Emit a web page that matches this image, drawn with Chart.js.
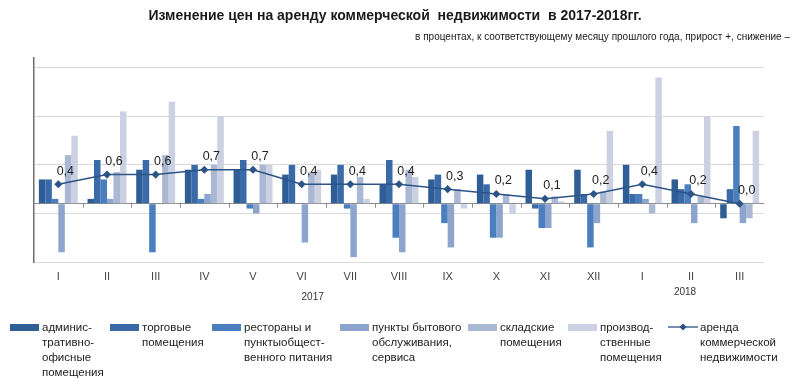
<!DOCTYPE html>
<html>
<head>
<meta charset="utf-8">
<script src="https://cdn.jsdelivr.net/npm/chart.js@4"></script>
<style>
  body { margin: 0; background: #fff; font-family: 'Liberation Sans', Arial, sans-serif; }
  #wrap { position: relative; width: 800px; height: 390px; }
  #title { position: absolute; left: 0; width: 790px; top: 7px; text-align: center; font-weight: bold; font-size: 14px; color: #1a1a1a; white-space: pre; }
  #sub { position: absolute; right: 10px; top: 31px; font-size: 10px; color: #1a1a1a; }
  .leg { position: absolute; top: 320px; font-size: 11.5px; line-height: 15px; color: #222; }
  .sw { position: absolute; top: 324px; width: 29px; height: 7px; }
</style>
</head>
<body>
<div id="wrap">
  <canvas id="chart" width="800" height="390"></canvas>
  <div id="title">Изменение цен на аренду коммерческой  недвижимости  в 2017-2018гг.</div>
  <div id="sub">в процентах, к соответствующему месяцу прошлого года, прирост +, снижение –</div>
  <div id="legend"></div>
</div>
<script>
// data
var months = ['I', 'II', 'III', 'IV', 'V', 'VI', 'VII', 'VIII', 'IX', 'X', 'XI', 'XII', 'I', 'II', 'III'];
var admin = [0.5, 0.1, 0.7, 0.7, 0.7, 0.6, 0.6, 0.4, 0.5, 0.6, 0.7, 0.7, 0.8, 0.5, -0.3];
var trade = [0.5, 0.9, 0.9, 0.8, 0.9, 0.8, 0.8, 0.9, 0.6, 0.4, -0.1, 0.2, 0.2, 0.3, 0.3];
var restaurants = [0.1, 0.5, -1.0, 0.1, -0.1, 0, -0.1, -0.7, -0.4, -0.7, -0.5, -0.9, 0.2, 0.4, 1.6];
var services = [-1.0, 0.1, 0, 0.2, -0.2, -0.8, -1.1, -1.0, -0.9, -0.7, -0.5, -0.4, 0.1, -0.4, -0.4];
var warehouse = [1.0, 0.65, 1.0, 0.8, 0.8, 0.65, 0.55, 0.7, 0.3, 0.2, 0.15, 0.25, -0.2, 0.15, -0.3];
var production = [1.4, 1.9, 2.1, 1.8, 0.8, 0.7, 0.1, 0.55, -0.1, -0.2, 0.05, 1.5, 2.6, 1.8, 1.5];
var rent = [0.4, 0.6, 0.6, 0.7, 0.7, 0.4, 0.4, 0.4, 0.3, 0.2, 0.1, 0.2, 0.4, 0.2, 0.0];
var yTicks = [-1.2, -0.2, 0, 0.8, 1.8, 2.8];
var years = ['2017', '2018'];

var barColors = ['#2F5E96', '#3A6BA8', '#4A7EBF', '#8CA4CE', '#AAB8D4', '#CBD1E2'];
var lineColor = '#2D5486';

var legendItems = [
    { left: 10, text: 'админис-<br>тративно-<br>офисные<br>помещения' },
    { left: 110, text: 'торговые<br>помещения' },
    { left: 212, text: 'рестораны и<br>пунктыобщест-<br>венного питания' },
    { left: 340, text: 'пункты бытового<br>обслуживания,<br>сервиса' },
    { left: 468, text: 'складские<br>помещения' },
    { left: 568, text: 'производ-<br>ственные<br>помещения' },
    { left: 668, text: 'аренда<br>коммерческой<br>недвижимости' }
];

// legend built as html under the chart
var html = '';
legendItems.forEach(function(item, i) {
    if (i < 6) {
        html += '<div class="sw" style="left:' + item.left + 'px;background:' + barColors[i] + '"></div>';
    } else {
        html += '<svg style="position:absolute;left:' + item.left + 'px;top:322px" width="30" height="10">' +
            '<line x1="0" y1="5" x2="30" y2="5" stroke="' + lineColor + '" stroke-width="1.3"/>' +
            '<rect x="12.5" y="2.5" width="5" height="5" fill="' + lineColor + '" transform="rotate(45 15 5)"/></svg>';
    }
    html += '<div class="leg" style="left:' + (item.left + 32) + 'px">' + item.text + '</div>';
});
document.getElementById('legend').innerHTML = html;

var extras = {   // zero line ticks, year labels and the line's value labels
    id: 'extras',
    afterDatasetsDraw: function(chart) {
        var ctx = chart.ctx;
        var x = chart.scales.x, y = chart.scales.y;
        var y0 = y.getPixelForValue(0);
        ctx.save();
        ctx.strokeStyle = '#8c8c8c';
        ctx.lineWidth = 1;
        for (var i = 1; i < months.length; i++) {
            var bx = Math.round((x.getPixelForValue(i - 1) + x.getPixelForValue(i)) / 2) + 0.5;
            ctx.beginPath();
            ctx.moveTo(bx, y0);
            ctx.lineTo(bx, y0 + 4);
            ctx.stroke();
        }
        ctx.fillStyle = '#222';
        ctx.font = '12.5px "Liberation Sans", Arial, sans-serif';
        ctx.textAlign = 'center';
        ctx.textBaseline = 'middle';
        var meta = chart.getDatasetMeta(6);
        meta.data.forEach(function(pt, i) {
            ctx.fillText(rent[i].toFixed(1).replace('.', ','), pt.x + 7, pt.y - 13);
        });
        ctx.fillStyle = '#333';
        ctx.font = '10px "Liberation Sans", Arial, sans-serif';
        ctx.fillText(years[0], x.getPixelForValue(5) + 11, 297);
        ctx.fillText(years[1], x.getPixelForValue(13) - 6, 292);
        ctx.restore();
    }
};

function makeChart() {
    var names = ['административно-офисные помещения', 'торговые помещения', 'рестораны и пункты общественного питания',
        'пункты бытового обслуживания, сервиса', 'складские помещения', 'производственные помещения'];
    var series = [admin, trade, restaurants, services, warehouse, production];
    var datasets = series.map(function(s, i) {
        return {
            type: 'bar',
            label: names[i],
            data: s,
            backgroundColor: barColors[i],
            categoryPercentage: 0.8,
            barPercentage: 1.0,
            order: 2
        };
    });
    datasets.push({
        type: 'line',
        label: 'аренда коммерческой недвижимости',
        data: rent,
        borderColor: lineColor,
        backgroundColor: lineColor,
        borderWidth: 1.5,
        pointStyle: 'rectRot',
        pointRadius: 3,
        tension: 0,
        order: 1
    });

    new Chart(document.getElementById('chart'), {
        data: { labels: months, datasets: datasets },
        options: {
            responsive: false,
            animation: false,
            layout: { padding: { left: 34, right: 36, top: 58, bottom: 98 } },
            plugins: {
                legend: { display: false },
                title: { display: false },
                tooltip: { enabled: false }
            },
            scales: {
                x: {
                    grid: { display: false, drawTicks: false },
                    border: { display: false },
                    ticks: { color: '#444', padding: 8, font: { size: 11, family: '"Liberation Sans", Arial' } },
                    afterFit: function(s) { s.height = 30; }
                },
                y: {
                    min: -1.2,
                    max: 3.0,
                    afterBuildTicks: function(s) {
                        s.ticks = yTicks.map(function(v) { return { value: v }; });
                    },
                    ticks: { display: false },
                    grid: {
                        drawTicks: false,
                        color: function(c) { return c.tick && c.tick.value === 0 ? '#8c8c8c' : '#dadada'; },
                        lineWidth: 1
                    },
                    border: { color: '#6e6e6e', width: 1.5 }
                }
            }
        },
        plugins: [extras]
    });
}

makeChart();
</script>
</body>
</html>
